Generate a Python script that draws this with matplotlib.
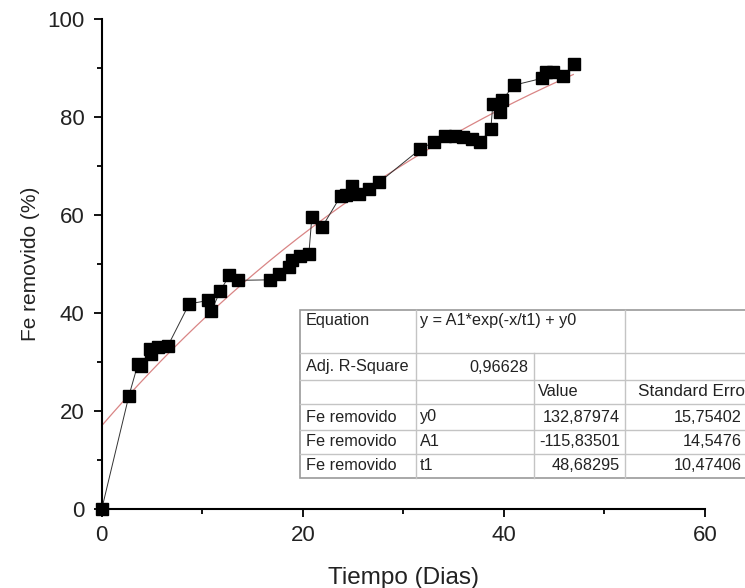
import numpy as np
import matplotlib
matplotlib.use("Agg")
import matplotlib.pyplot as plt

plt.rcParams['font.family'] = ['Liberation Sans', 'DejaVu Sans']

# measured data (Tiempo in dias, Fe removido in %)
tiempo = [0, 2.7, 3.6, 3.9, 4.8, 4.9, 5.6, 6.6, 8.7, 10.6, 10.9, 11.8, 12.7, 13.6,
          16.7, 17.6, 18.6, 18.9, 19.7, 20.6, 20.9, 21.9, 23.8, 24.3, 24.9, 25.6,
          26.6, 27.6, 31.7, 33.0, 34.1, 35.1, 35.9, 36.8, 37.6, 38.7, 38.9, 39.6,
          39.8, 41.0, 43.8, 44.2, 44.9, 45.9, 47.0]
fe_removido = [0, 23.1, 29.6, 29.3, 32.6, 31.7, 33.1, 33.4, 41.9, 42.6, 40.4, 44.6,
               47.7, 46.7, 46.8, 47.9, 49.4, 50.9, 51.7, 52.0, 59.6, 57.5, 64.0, 64.2,
               65.9, 64.4, 65.4, 66.7, 73.5, 74.9, 76.2, 76.1, 75.9, 75.5, 74.9, 77.5,
               82.7, 81.1, 83.4, 86.5, 87.9, 89.1, 89.1, 88.3, 90.8]

# fit parameters shown in the table
y0 = 132.87974
A1 = -115.83501
t1 = 48.68295

table_rows = [
    ["Equation", "y = A1*exp(-x/t1) + y0", "", ""],
    ["Adj. R-Square", "0,96628", "", ""],
    ["", "", "Value", "Standard Error"],
    ["Fe removido", "y0", "132,87974", "15,75402"],
    ["Fe removido", "A1", "-115,83501", "14,5476"],
    ["Fe removido", "t1", "48,68295", "10,47406"],
]

W, H = 745, 588
fig = plt.figure(figsize=(W / 100, H / 100), dpi=100)
ax = fig.add_axes([101.7 / W, 1 - 509.3 / H, (705 - 101.7) / W, (509.3 - 19) / H])

xf = np.linspace(0, 46.9, 200)
ax.plot(xf, A1 * np.exp(-xf / t1) + y0, color='#d98585', lw=0.9, zorder=2)
ax.plot(tiempo, fe_removido, color='#333333', lw=0.7, marker='s', ms=8.5,
        mfc='black', mec='black', zorder=3, clip_on=False)

ax.set_xlim(0, 60)
ax.set_ylim(0, 100)
ax.set_xticks([0, 20, 40, 60])
ax.set_xticks([10, 30, 50], minor=True)
ax.set_yticks([0, 20, 40, 60, 80, 100])
ax.set_yticks([10, 30, 50, 70, 90], minor=True)
for s in ['top', 'right']:
    ax.spines[s].set_visible(False)
for s in ['left', 'bottom']:
    ax.spines[s].set_linewidth(1.5)
ax.tick_params(which='major', direction='out', length=5.5, width=1.3, labelsize=16,
               labelcolor='#222222')
ax.tick_params(axis='y', which='major', pad=7)
ax.tick_params(axis='x', which='major', pad=6)
ax.tick_params(which='minor', direction='out', length=3.5, width=1.3)
ax.set_xlabel('Tiempo (Dias)', fontsize=17.5, labelpad=15, color='#222222')
ax.set_ylabel('Fe removido (%)', fontsize=15, labelpad=5, color='#222222')

# fit table drawn in pixel coordinates
ov = fig.add_axes([0, 0, 1, 1], zorder=5)
ov.set_xlim(0, W)
ov.set_ylim(H, 0)
ov.axis('off')
ov.patch.set_alpha(0)

col_x = [300, 416, 534, 625, 780]
row_y = [310, 353, 380, 404, 430, 454, 478]
ov.add_patch(plt.Rectangle((col_x[0], row_y[0]), col_x[-1] - col_x[0], row_y[-1] - row_y[0],
                           facecolor='white', edgecolor='#9a9a9a', lw=1.2))
for y in row_y[1:-1]:
    ov.plot([col_x[0], col_x[-1]], [y, y], color='#c4c4c4', lw=1)
for i, x in enumerate(col_x[1:-1]):
    top = row_y[1] if i == 1 else row_y[0]
    ov.plot([x, x], [top, row_y[-1]], color='#c4c4c4', lw=1)

fs = 11.7
text_y = [321, 367, 392, 417, 441, 465]
for r, row in enumerate(table_rows):
    ty = text_y[r]
    ov.text(306, ty, row[0], fontsize=fs, va='center', ha='left', color='#222222')
    if r == 1:
        ov.text(528, ty, row[1], fontsize=fs, va='center', ha='right', color='#222222')
    else:
        ov.text(420, ty, row[1], fontsize=fs, va='center', ha='left', color='#222222')
    if r == 2:
        ov.text(538, ty, row[2], fontsize=fs, va='center', ha='left', color='#222222')
        ov.text(638, ty, row[3], fontsize=12.3, va='center', ha='left', color='#222222')
    else:
        ov.text(620, ty, row[2], fontsize=fs, va='center', ha='right', color='#222222')
        ov.text(742, ty, row[3], fontsize=fs, va='center', ha='right', color='#222222')

fig.savefig('out.png', dpi=100)
